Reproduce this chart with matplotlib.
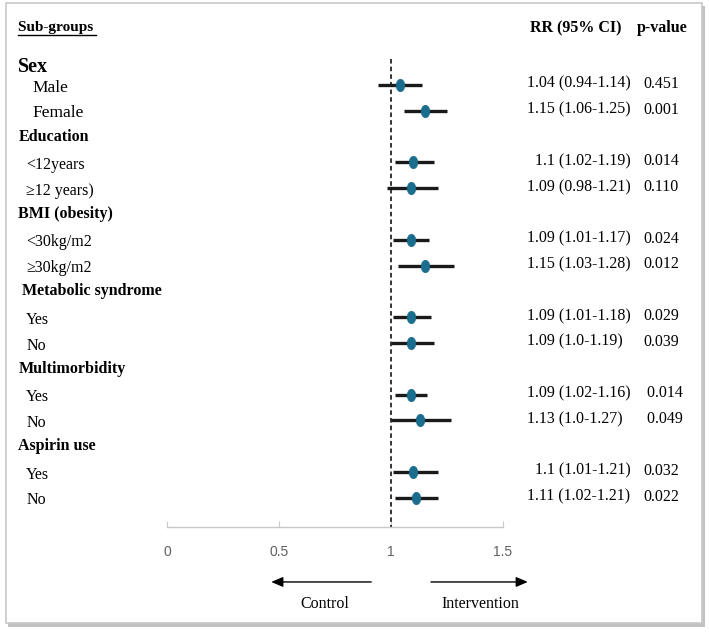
import matplotlib.pyplot as plt
import matplotlib.patches as mpatches
from matplotlib.path import Path
from matplotlib.transforms import Affine2D

# rows of the table, top to bottom (header rows have no estimate)
labels = ['Sex', 'Male', 'Female',
          'Education', '<12years', '\u226512 years)',
          'BMI (obesity)', '<30kg/m2', '\u226530kg/m2',
          'Metabolic syndrome', 'Yes', 'No',
          'Multimorbidity', 'Yes', 'No',
          'Aspirin use', 'Yes', 'No']
is_header = [True, False, False,
             True, False, False,
             True, False, False,
             True, False, False,
             True, False, False,
             True, False, False]
rr = [None, 1.04, 1.15, None, 1.10, 1.09, None, 1.09, 1.15,
      None, 1.09, 1.09, None, 1.09, 1.13, None, 1.10, 1.11]
ci_low = [None, 0.94, 1.06, None, 1.02, 0.98, None, 1.01, 1.03,
          None, 1.01, 1.00, None, 1.02, 1.00, None, 1.01, 1.02]
ci_high = [None, 1.14, 1.25, None, 1.19, 1.21, None, 1.17, 1.28,
           None, 1.18, 1.19, None, 1.16, 1.27, None, 1.21, 1.21]
rr_text = ['', '1.04 (0.94-1.14)', '1.15 (1.06-1.25)',
           '', '  1.1 (1.02-1.19)', '1.09 (0.98-1.21)',
           '', '1.09 (1.01-1.17)', '1.15 (1.03-1.28)',
           '', '1.09 (1.01-1.18)', '1.09 (1.0-1.19)',
           '', '1.09 (1.02-1.16)', '1.13 (1.0-1.27)',
           '', '  1.1 (1.01-1.21)', '1.11 (1.02-1.21)']
p_text = ['', '0.451', '0.001', '', '0.014', '0.110', '', '0.024', '0.012',
          '', '0.029', '0.039', '', ' 0.014', ' 0.049', '', '0.032', '0.022']
x_ticks = [0, 0.5, 1, 1.5]

SERIF = ['Liberation Serif', 'DejaVu Serif']
NARROW = ['Liberation Sans Narrow', 'Liberation Sans', 'DejaVu Sans']
POINT_COLOR = '#1b6d8e'

W, H = 709, 634
fig = plt.figure(figsize=(W / 100, H / 100), dpi=100)

# framed box with a soft shadow (behind the axes)
shadow = mpatches.Rectangle((8 / W, 1 - 627 / H), 697 / W, 621 / H, transform=fig.transFigure,
                            facecolor='#9a9a9a', edgecolor='none', alpha=0.6, zorder=-2)
frame = mpatches.Rectangle((6 / W, 1 - 623 / H), 696 / W, 620 / H, transform=fig.transFigure,
                           facecolor='white', edgecolor='#c8c8c8', linewidth=1.2, zorder=-1)
fig.patches.extend([shadow, frame])

# the forest axes: x from 0 to 1.5, rows counted downward
y_top, y_bottom = -2.295, 18.13
ax = fig.add_axes([167 / W, 1 - 527 / H, (503 - 167) / W, 527 / H])
ax.patch.set_visible(False)
ax.set_xlim(0, 1.5)
ax.set_ylim(y_bottom, y_top)
for side in ['top', 'right', 'left']:
    ax.spines[side].set_visible(False)
ax.spines['bottom'].set_color('#c8c8c8')
ax.spines['bottom'].set_linewidth(1.0)
ax.set_yticks([])
ax.set_xticks(x_ticks)
ax.set_xticklabels(['0', '0.5', '1', '1.5'], family=NARROW, fontsize=10, color='#606060')
ax.tick_params(axis='x', direction='in', length=4, color='#c8c8c8', pad=13)

# reference line at RR = 1
ax.vlines(1, 0, y_bottom, colors='black', linestyles=(0, (3, 2)), linewidth=1.1, zorder=2)

ellipse = Path.unit_circle().transformed(Affine2D().scale(0.68, 1.0))

sub_x = -0.628
for i, lab in enumerate(labels):
    if is_header[i]:
        if lab == 'Sex':
            ax.text(-0.664, i + 0.3, lab, family=SERIF, fontsize=14.5, fontweight='bold',
                    va='center', ha='left')
        else:
            ax.text(-0.664 if lab != 'Metabolic syndrome' else -0.646, i, lab, family=SERIF,
                    fontsize=11.5, fontweight='bold', va='center', ha='left')
        continue
    ax.text(-0.601 if i < 3 else sub_x, i + 0.1, lab, family=SERIF,
            fontsize=12.5 if i < 3 else 11.5, va='center', ha='left')
    ax.plot([ci_low[i], ci_high[i]], [i, i], color='#1a1a1a', linewidth=2.4,
            solid_capstyle='butt', zorder=3, clip_on=False)
    ax.plot(rr[i], i, marker=ellipse, markersize=9, color=POINT_COLOR,
            markeredgecolor=POINT_COLOR, markeredgewidth=0.5, zorder=4, clip_on=False)
    ax.text(1.605, i - 0.05, rr_text[i], family=SERIF, fontsize=11.5, va='center', ha='left')
    ax.text(2.126, i - 0.05, p_text[i], family=SERIF, fontsize=11.5, va='center', ha='left')

# column headers
ax.text(-0.664, -1.21, 'Sub-groups ', family=SERIF, fontsize=11, fontweight='bold',
        va='center', ha='left')
ax.plot([-0.664, -0.315], [-0.92, -0.92], color='black', linewidth=1.0, clip_on=False)
ax.text(1.827, -1.21, 'RR (95% CI)', family=SERIF, fontsize=11.5, fontweight='bold',
        va='center', ha='center')
ax.text(2.209, -1.21, 'p-value', family=SERIF, fontsize=11.5, fontweight='bold',
        va='center', ha='center')

# direction arrows below the axis
arrow_kw = dict(arrowstyle='-|>,head_length=0.7,head_width=0.3', color='black', lw=1.0)
ax.annotate('', xy=(0.453, 20.26), xytext=(0.924, 20.26), arrowprops=arrow_kw,
            annotation_clip=False)
ax.annotate('', xy=(1.623, 20.26), xytext=(1.166, 20.26), arrowprops=arrow_kw,
            annotation_clip=False)
ax.text(0.704, 21.12, 'Control', family=SERIF, fontsize=11.5, va='center', ha='center')
ax.text(1.399, 21.12, 'Intervention', family=SERIF, fontsize=11.5, va='center', ha='center')

fig.savefig('out.png', dpi=100)
